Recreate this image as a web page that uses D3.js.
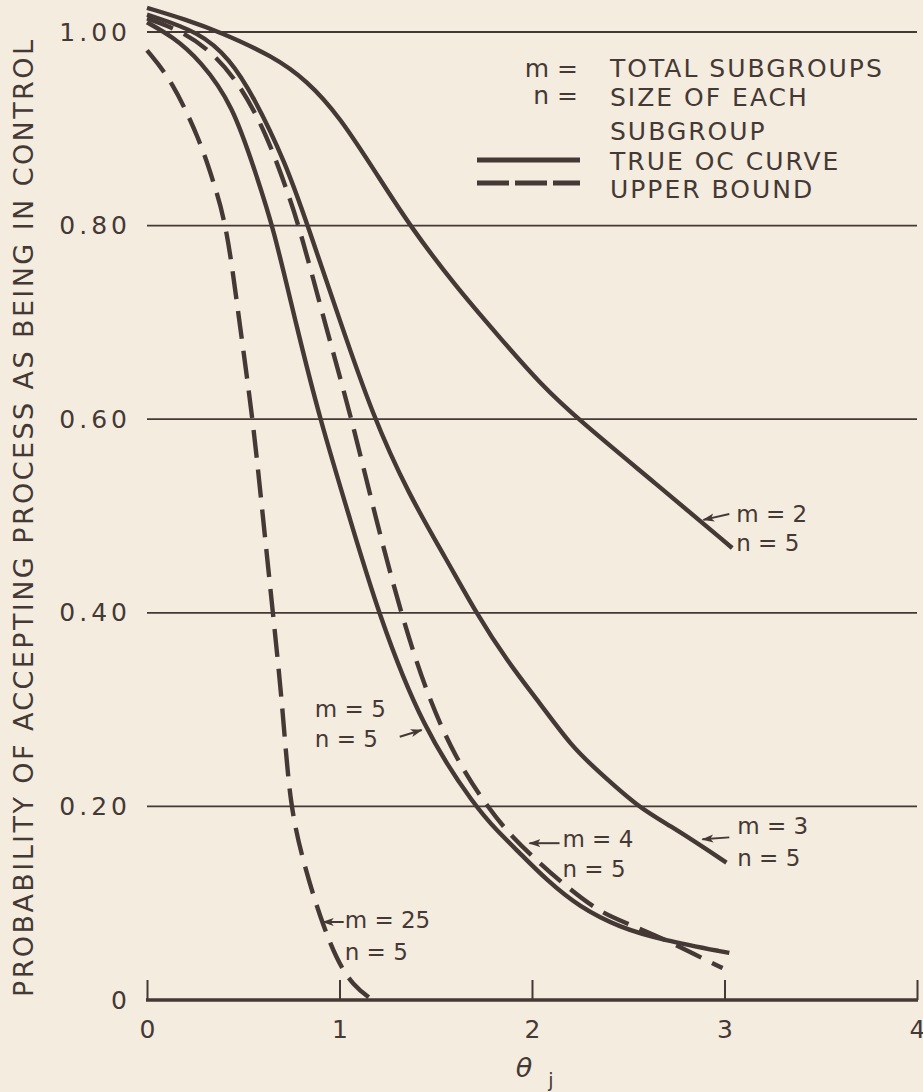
<!DOCTYPE html>
<html>
<head>
<meta charset="utf-8">
<script src="https://cdn.jsdelivr.net/npm/d3@7"></script>
<style>
  html, body { margin: 0; padding: 0; background: #f4ecdf; }
  svg { display: block; }
  text { font-family: "DejaVu Sans", sans-serif; fill: #453935; }
</style>
</head>
<body>
<svg id="chart" width="923" height="1092"></svg>
<script>
// points: [theta_j, probability of accepting]
const m2True = [[0, 1.025], [0.2, 1.013], [0.38, 1.0], [0.654, 0.975], [0.83, 0.95], [1.0, 0.913],
  [1.21, 0.848], [1.365, 0.8], [1.6, 0.738], [1.83, 0.685], [2.04, 0.637], [2.25, 0.598],
  [2.64, 0.534], [3.04, 0.467]];
const m3True = [[0, 1.018], [0.275, 1.0], [0.43, 0.972], [0.55, 0.935], [0.72, 0.865], [0.835, 0.8],
  [1.0, 0.703], [1.17, 0.605], [1.36, 0.522], [1.556, 0.455], [1.712, 0.399], [1.868, 0.351],
  [2.039, 0.307], [2.21, 0.261], [2.335, 0.238], [2.558, 0.198], [2.73, 0.179], [3.01, 0.142]];
const m4Bound = [[0, 1.014], [0.17, 1.002], [0.33, 0.981], [0.48, 0.947], [0.62, 0.895], [0.726, 0.837],
  [0.79, 0.8], [0.934, 0.692], [1.064, 0.6], [1.185, 0.5], [1.318, 0.4], [1.45, 0.318],
  [1.6, 0.25], [1.78, 0.196], [1.899, 0.168], [2.039, 0.1415], [2.18, 0.117], [2.35, 0.091],
  [2.49, 0.0795], [2.73, 0.059], [2.936, 0.038], [2.99, 0.033]];
const m5True = [[0, 1.01], [0.135, 0.995], [0.275, 0.971], [0.446, 0.925], [0.571, 0.85], [0.654, 0.8],
  [0.778, 0.695], [0.898, 0.6], [1.05, 0.5], [1.2, 0.4], [1.432, 0.28], [1.712, 0.198],
  [1.816, 0.1756], [1.935, 0.152], [2.075, 0.124], [2.246, 0.096], [2.454, 0.075], [2.677, 0.062],
  [3.025, 0.0486]];
const m25Bound = [[0, 0.981], [0.13, 0.95], [0.275, 0.888], [0.342, 0.847], [0.415, 0.8], [0.48, 0.7],
  [0.55, 0.6], [0.6, 0.503], [0.654, 0.4], [0.706, 0.3], [0.742, 0.199], [0.82, 0.137],
  [0.898, 0.086], [0.986, 0.041], [1.07, 0.015], [1.17, 0]];

const xTicks = [0, 1, 2, 3, 4];
const yTicks = [0, 0.2, 0.4, 0.6, 0.8, 1.0];
const yTickLabels = ["0", "0.20", "0.40", "0.60", "0.80", "1.00"];
const gridValues = [0.2, 0.4, 0.6, 0.8, 1.0];

const legendLines = ["TOTAL SUBGROUPS", "SIZE OF EACH", "SUBGROUP", "TRUE OC CURVE", "UPPER BOUND"];
const yTitle = "PROBABILITY OF ACCEPTING PROCESS AS BEING IN CONTROL";

const ink = "#453935";

const series = [
  { pts: m2True, dashed: false },
  { pts: m3True, dashed: false },
  { pts: m4Bound, dashed: true },
  { pts: m5True, dashed: false },
  { pts: m25Bound, dashed: true }
];

// labels beside curves, in data units: text start, first baseline, arrow from -> to
const notes = [
  { m: "m = 2", tx: 3.061, ty: 0.494, ty2: 0.464, a: [3.025, 0.502, 2.89, 0.496] },
  { m: "m = 3", tx: 3.066, ty: 0.1715, ty2: 0.138, a: [3.025, 0.168, 2.885, 0.166] },
  { m: "m = 4", tx: 2.158, ty: 0.158, ty2: 0.127, a: [2.143, 0.162, 1.987, 0.162] },
  { m: "m = 5", tx: 0.872, ty: 0.292, ty2: 0.261, a: [1.313, 0.272, 1.427, 0.279] },
  { m: "m = 25", tx: 1.027, ty: 0.0744, ty2: 0.041, a: [1.022, 0.0806, 0.913, 0.0806] }
];

const svg = d3.select("#chart");

svg.append("rect").attr("width", 923).attr("height", 1092).attr("fill", "#f4ecdf");

const x = d3.scaleLinear().domain([0, 4]).range([147, 917]);
const y = d3.scaleLinear().domain([0, 1]).range([1000, 32]);

svg.append("defs").append("marker")
  .attr("id", "arrow")
  .attr("markerUnits", "userSpaceOnUse")
  .attr("markerWidth", 12).attr("markerHeight", 10)
  .attr("refX", 11).attr("refY", 5)
  .attr("orient", "auto")
  .append("path")
  .attr("d", "M0,1 L12,5 L0,9 L3,5 Z")
  .attr("fill", ink);

// gridlines
svg.append("g")
  .selectAll("line")
  .data(gridValues)
  .join("line")
  .attr("x1", x(0)).attr("x2", x(4))
  .attr("y1", d => y(d)).attr("y2", d => y(d))
  .attr("stroke", ink).attr("stroke-width", 1.8);

// x axis: baseline with ticks pointing up
const xAxis = svg.append("g")
  .attr("transform", "translate(0," + y(0) + ")")
  .call(d3.axisBottom(x).tickValues(xTicks).tickSize(-20).tickPadding(20).tickFormat(d3.format("d")));
xAxis.select(".domain").remove();
xAxis.selectAll(".tick line").attr("stroke", ink).attr("stroke-width", 2);
xAxis.selectAll(".tick text")
  .attr("font-size", 25).attr("font-family", "DejaVu Sans").attr("fill", ink);
svg.append("line")
  .attr("x1", x(0) - 1).attr("x2", x(4) + 1)
  .attr("y1", y(0)).attr("y2", y(0))
  .attr("stroke", ink).attr("stroke-width", 3.5);

// y axis labels only
const yAxis = svg.append("g")
  .attr("transform", "translate(" + x(0) + ",0)")
  .call(d3.axisLeft(y).tickValues(yTicks).tickSize(0).tickPadding(16)
    .tickFormat((d, i) => yTickLabels[i]));
yAxis.select(".domain").remove();
yAxis.selectAll(".tick text")
  .attr("font-size", 25).attr("font-family", "DejaVu Sans").attr("fill", ink)
  .attr("letter-spacing", 4);

svg.append("text")
  .attr("transform", "translate(33,997) rotate(-90)")
  .attr("x", 0).attr("y", 0)
  .attr("font-size", 27)
  .attr("textLength", 957)
  .attr("lengthAdjust", "spacing")
  .text(yTitle);

// x axis title
svg.append("text")
  .attr("x", 524).attr("y", 1077)
  .attr("text-anchor", "middle")
  .attr("font-size", 27).attr("font-style", "italic")
  .text("θ");
svg.append("text")
  .attr("x", 551).attr("y", 1087)
  .attr("text-anchor", "middle")
  .attr("font-size", 19)
  .text("j");

// curves
const line = d3.line()
  .x(d => x(d[0]))
  .y(d => y(d[1]))
  .curve(d3.curveBasis);

svg.append("g")
  .selectAll("path")
  .data(series)
  .join("path")
  .attr("d", d => line(d.pts))
  .attr("fill", "none")
  .attr("stroke", ink)
  .attr("stroke-width", 4.4)
  .attr("stroke-dasharray", d => d.dashed ? "28,12" : null);

// curve labels
const nl = svg.append("g").attr("font-size", 23);
notes.forEach(n => {
  nl.append("text").attr("x", x(n.tx)).attr("y", y(n.ty)).text(n.m);
  nl.append("text").attr("x", x(n.tx)).attr("y", y(n.ty2)).text("n = 5");
  nl.append("line")
    .attr("x1", x(n.a[0])).attr("y1", y(n.a[1]))
    .attr("x2", x(n.a[2])).attr("y2", y(n.a[3]))
    .attr("stroke", ink).attr("stroke-width", 2)
    .attr("marker-end", "url(#arrow)");
});

// legend
const lg = svg.append("g").attr("font-size", 25);
const legendBase = [77, 106, 140, 170, 198];
lg.selectAll("text.lt")
  .data(legendLines)
  .join("text")
  .attr("class", "lt")
  .attr("x", 610)
  .attr("y", (d, i) => legendBase[i])
  .attr("letter-spacing", 2)
  .text(d => d);
lg.append("text").attr("x", 578).attr("y", 77).attr("text-anchor", "end").text("m =");
lg.append("text").attr("x", 578).attr("y", 104).attr("text-anchor", "end").text("n =");
lg.append("line")
  .attr("x1", 477).attr("x2", 580).attr("y1", 160).attr("y2", 160)
  .attr("stroke", ink).attr("stroke-width", 5);
lg.append("line")
  .attr("x1", 477).attr("x2", 580).attr("y1", 183).attr("y2", 183)
  .attr("stroke", ink).attr("stroke-width", 5)
  .attr("stroke-dasharray", "32,6");
</script>
</body>
</html>
